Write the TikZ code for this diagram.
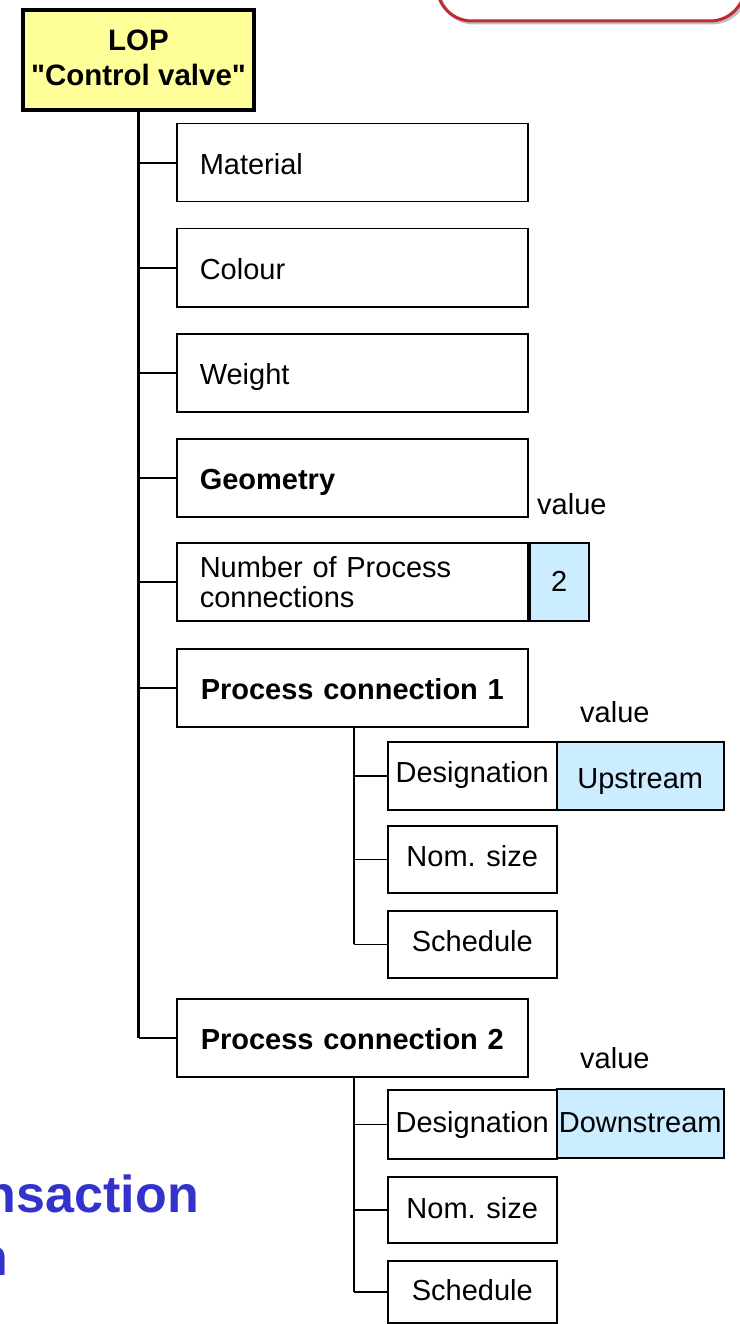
\documentclass[tikz,border=0pt]{standalone}
\usepackage{fontspec}
\setmainfont{Liberation Sans}
\definecolor{lopyellow}{HTML}{FFFF99}
\definecolor{valblue}{HTML}{CCECFF}
\definecolor{redframe}{RGB}{192,40,50}
\definecolor{titleblue}{HTML}{3333CC}
\begin{document}
\begin{tikzpicture}[x=1pt,y=-1pt,
  every node/.style={font=\fontsize{29}{30}\selectfont},
  attrbase/.style={draw=black,line width=1.5pt,fill=white,anchor=north west,minimum width=351pt,minimum height=78pt,inner xsep=23pt,inner ysep=0pt,text width=305pt,align=left},
  attr/.style={attrbase,text height=29pt,text depth=6pt},
  attrc/.style={attr,align=center},
  sub/.style={draw=black,line width=1.5pt,fill=white,anchor=north west,minimum width=169pt,minimum height=68pt,inner sep=0pt,align=center,text height=21pt,text depth=7pt},
  subb/.style={sub,text height=22pt,text depth=5pt},
  val/.style={draw=black,line width=1.5pt,fill=valblue,anchor=north west,minimum height=68pt,inner sep=0pt,align=center},
  trunk/.style={line width=3pt},
  branch/.style={line width=2pt},
  subline/.style={line width=1.5pt},
  lbl/.style={inner sep=0pt,anchor=base west}
]
\useasboundingbox (0,0) rectangle (739,1324);
% red rounded frame (partly visible) with light shadow
\draw[black!25,line width=3pt,rounded corners=35pt] (439,-78) rectangle (747,23);
\draw[redframe,line width=3pt,rounded corners=35pt] (437,-80) rectangle (745,21);
% top box
\node[draw=black,line width=4pt,fill=lopyellow,anchor=north west,minimum width=231pt,minimum height=100pt,inner sep=0pt] (lop) at (21,8) {};
\node[inner sep=0pt,align=center,font=\bfseries\fontsize{29.5}{35}\selectfont,yshift=2.5pt] (lopt) at (lop.center) {LOP\\\textquotedbl Control valve\textquotedbl};
% attribute boxes
\node[attr] (mat) at (176,123) {Material};
\node[attr] (col) at (176,228) {Colour};
\node[attr] (wgt) at (176,333) {Weight};
\node[attr,font=\bfseries\fontsize{29}{30}\selectfont] (geo) at (176,438) {Geometry};
\node[attrbase] (npc) at (176,542) {Number of Process\\connections};
\node[attrc,font=\bfseries\fontsize{29}{30}\selectfont] (pc1) at (176,648) {Process connection 1};
\node[attrc,font=\bfseries\fontsize{29}{30}\selectfont] (pc2) at (176,998) {Process connection 2};
% value of number
\node[val,minimum width=59pt,minimum height=78pt] (two) at (529,542) {2};
\node[lbl] (v0) at (537,514) {value};
% sub tree 1
\node[sub] (des1) at (387,741) {Designation};
\node[sub,minimum height=67pt] (nom1) at (387,825) {Nom. size};
\node[sub,minimum height=67pt] (sch1) at (387,910) {Schedule};
\node[val,minimum width=167pt,text height=26pt,text depth=0pt] (up) at (556,741) {Upstream};
\node[lbl] (v1) at (580,722) {value};
% sub tree 2
\node[subb,minimum height=69pt] (des2) at (387,1089) {Designation};
\node[subb,minimum height=66pt] (nom2) at (387,1176) {Nom. size};
\node[subb,minimum height=62pt] (sch2) at (387,1260) {Schedule};
\node[val,minimum width=167pt,minimum height=69pt,text height=22pt,text depth=3pt] (down) at (556,1088) {Downstream};
\node[lbl] (v2) at (580,1068) {value};
% blue clipped title text
\node[inner sep=0pt,anchor=base east,text=titleblue,font=\bfseries\fontsize{52}{60}\selectfont] (t1) at (199,1212) {nsaction};
\node[inner sep=0pt,anchor=base east,text=titleblue,font=\bfseries\fontsize{52}{60}\selectfont] (t2) at (8,1275) {n};
% connectors
\draw[trunk] (lop.south) -- (lop.south |- pc2.west);
\foreach \n in {mat,col,wgt,geo,npc,pc1,pc2}
  \draw[branch] (lop.south |- \n.west) -- (\n.west);
\coordinate (s1) at ([xshift=1.5pt]pc1.south);
\draw[subline] (s1) -- (s1 |- sch1.west);
\foreach \n in {des1,nom1,sch1}
  \draw[subline] (s1 |- \n.west) -- (\n.west);
\coordinate (s2) at ([xshift=1.5pt]pc2.south);
\draw[subline] (s2) -- (s2 |- sch2.west);
\foreach \n in {des2,nom2,sch2}
  \draw[subline] (s2 |- \n.west) -- (\n.west);
\end{tikzpicture}
\end{document}
